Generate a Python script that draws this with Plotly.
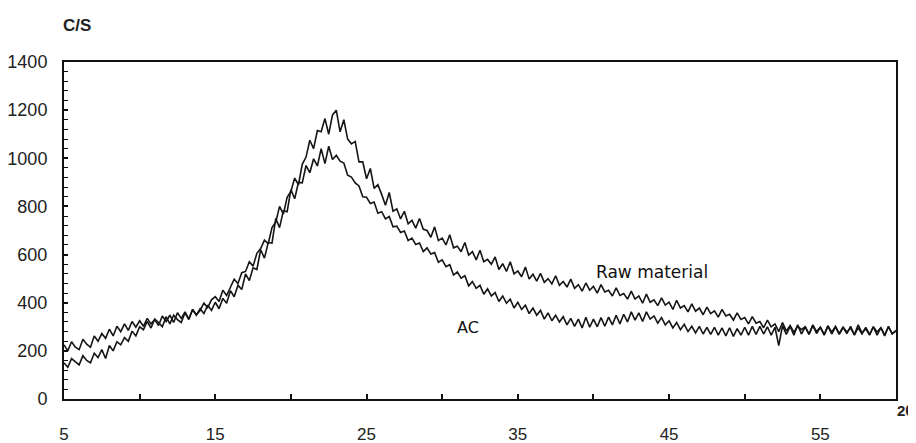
import plotly.graph_objects as go

# 2-theta grid: 5.00 .. 60.00 every 0.25 degree
two_theta = [5 + 0.25 * i for i in range(221)]

raw_material = [
    150, 132, 168, 155, 142, 180, 160, 150, 190, 172, 205, 168, 222, 200, 238, 225,
    255, 240, 282, 262, 300, 288, 322, 295, 332, 318, 300, 342, 312, 348, 330, 318,
    358, 330, 372, 350, 368, 398, 380, 412, 425, 405, 452, 430, 465, 498, 480, 525,
    530, 570, 552, 605, 625, 660, 645, 712, 735, 800, 768, 838, 862, 918, 890, 975,
    1005, 1075, 1040, 1115, 1110, 1165, 1100, 1180, 1200, 1110, 1160, 1080,
    1060, 1070, 985, 985, 915, 958, 875, 890, 850, 805, 858, 780, 790, 748, 780, 728,
    742, 710, 750, 705, 700, 672, 715, 658, 668, 640, 682, 628, 635, 612, 650, 598,
    612, 578, 618, 570, 580, 560, 590, 538, 562, 530, 570, 520, 532, 508, 548, 498,
    518, 490, 522, 485, 500, 478, 512, 472, 488, 465, 498, 460, 475, 448, 482, 452,
    468, 440, 475, 445, 452, 428, 462, 430, 438, 415, 448, 415, 428, 398, 436, 402,
    412, 388, 420, 390, 402, 372, 410, 378, 388, 362, 395, 365, 378, 350, 382, 355,
    366, 340, 372, 345, 352, 328, 358, 330, 338, 312, 342, 315, 322, 296, 328, 300,
    312, 280, 318, 282, 305, 278, 302, 288, 300, 270, 308, 280, 298, 268, 305, 278,
    302, 272, 298, 278, 295, 268, 308, 275, 292, 265, 300, 278, 296, 265, 300, 272,
    282,
]

ac = [
    225, 200, 238, 215, 205, 248, 228, 215, 262, 240, 272, 252, 290, 262, 302, 280,
    312, 285, 322, 298, 325, 302, 335, 312, 330, 305, 345, 322, 348, 318, 358, 335,
    362, 332, 372, 348, 375, 355, 390, 368, 402, 375, 418, 398, 450, 425, 472, 455,
    520, 492, 545, 538, 620, 585, 650, 648, 750, 712, 782, 778, 870, 832, 900, 898,
    970, 940, 998, 968, 1040, 978, 1050, 995, 1012, 988, 980, 930,
    922, 898, 885, 840, 838, 812, 818, 772, 778, 748, 758, 715, 718, 692, 698, 658,
    668, 642, 648, 612, 628, 602, 608, 568, 578, 550, 558, 515, 528, 502, 512, 470,
    488, 460, 472, 435, 458, 428, 442, 405, 428, 398, 415, 378, 402, 372, 390, 355,
    378, 348, 368, 332, 358, 325, 348, 320, 342, 308, 335, 302, 332, 295, 340, 298,
    332, 300, 338, 302, 340, 308, 348, 312, 352, 320, 362, 328, 358, 322, 362, 332,
    345, 315, 338, 308, 325, 295, 318, 288, 310, 280, 302, 275, 302, 270, 298, 268,
    298, 265, 295, 262, 296, 260, 292, 265, 298, 265, 302, 268, 302, 270, 300, 265,
    298, 222, 305, 268, 302, 265, 308, 270, 300, 268, 305, 272, 298, 265, 302, 270,
    300, 268, 298, 272, 302, 265, 296, 270, 298, 268, 300, 265, 296, 262, 302, 270,
    285,
]

x_tick_vals = [5, 10, 15, 20, 25, 30, 35, 40, 45, 50, 55, 60]
x_tick_text = ["5", "", "15", "", "25", "", "35", "", "45", "", "55", ""]
y_tick_vals = [0, 200, 400, 600, 800, 1000, 1200, 1400]

tick_font = "Liberation Sans, Arial, sans-serif"

fig = go.Figure()
fig.add_trace(go.Scatter(x=two_theta, y=raw_material, mode="lines", name="Raw material",
                         line=dict(color="#151515", width=1.6)))
fig.add_trace(go.Scatter(x=two_theta, y=ac, mode="lines", name="AC",
                         line=dict(color="#151515", width=1.6)))

# page body has an 8px margin, so the figure is sized/offset to compensate
fig.update_layout(
    width=908, height=435,
    margin=dict(l=56, r=20, t=54, b=44, pad=0),
    paper_bgcolor="white", plot_bgcolor="white",
    showlegend=False,
    font=dict(family=tick_font, size=17, color="#222222"),
)

fig.update_xaxes(
    range=[5, 60], tickvals=x_tick_vals, ticktext=x_tick_text,
    ticks="inside", ticklen=5, tickwidth=1.5, tickcolor="#111111",
    showline=True, linecolor="#111111", linewidth=2, mirror=True,
    showgrid=False, zeroline=False, ticklabelstandoff=19, automargin=False,
    tickfont=dict(family=tick_font, size=17, color="#222222"),
)
fig.update_yaxes(
    range=[0, 1400], tickvals=y_tick_vals,
    ticks="inside", ticklen=4, tickwidth=1.5, tickcolor="#111111",
    minor=dict(dtick=40, tick0=0, ticks="inside", ticklen=4, tickwidth=1.2, tickcolor="#111111"),
    showline=True, linecolor="#111111", linewidth=2, mirror=True,
    showgrid=False, zeroline=False, ticklabelstandoff=11, automargin=False,
    tickfont=dict(family=tick_font, size=18, color="#222222"),
)

fig.add_annotation(text="<b>C/S</b>", xref="paper", yref="paper", x=0.0, y=1.0,
                   xanchor="left", yanchor="bottom", yshift=25, xshift=-3, showarrow=False,
                   font=dict(family=tick_font, size=17, color="#222222"))
fig.add_annotation(text="<b>2θ</b>", xref="paper", yref="paper", x=1.0, y=0.0,
                   xanchor="right", yanchor="top", xshift=19, yshift=-1, showarrow=False,
                   font=dict(family=tick_font, size=15, color="#222222"))
fig.add_annotation(text="Raw material", x=43.9, y=528, xref="x", yref="y",
                   showarrow=False, font=dict(family="DejaVu Sans, sans-serif", size=17, color="#111111"))
fig.add_annotation(text="AC", x=31.7, y=295, xref="x", yref="y",
                   showarrow=False, font=dict(family="DejaVu Sans, sans-serif", size=16, color="#111111"))

fig.write_html("out.html")
